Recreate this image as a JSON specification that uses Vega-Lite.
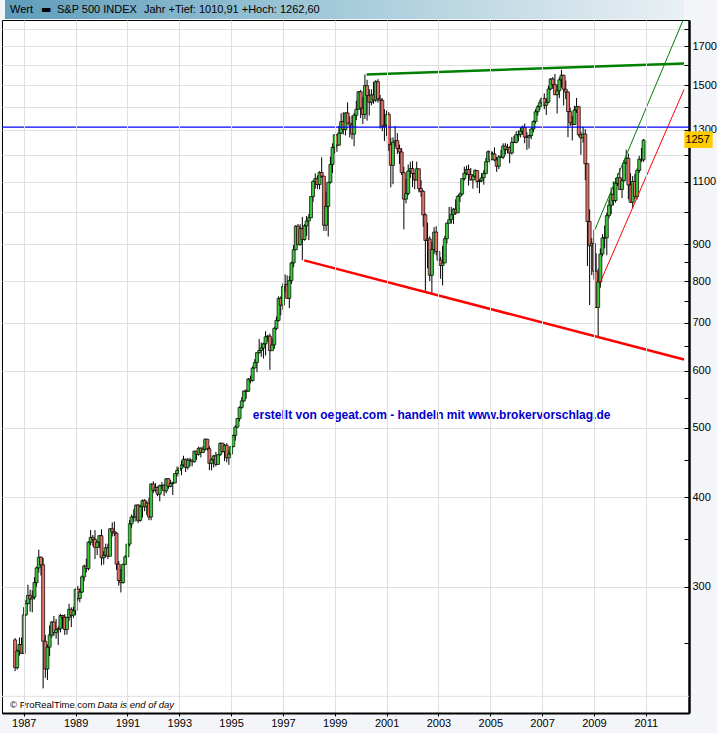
{
  "$schema": "https://vega.github.io/schema/vega-lite/v6.json",
  "width": 687,
  "height": 693,
  "autosize": {"type": "none"},
  "padding": {"left": 2, "top": 20, "right": 28, "bottom": 20},
  "config": {
    "background": "#f4f5f8",
    "view": {"fill": "white", "stroke": "black", "strokeWidth": 1},
    "font": "Liberation Sans"
  },
  "datasets": {
    "ohlc": [
      {"d":"1986-09-01","o":252.93,"h":254.37,"l":228.74,"c":231.32},
      {"d":"1986-10-01","o":231.32,"h":245.26,"l":229.91,"c":243.98},
      {"d":"1986-11-01","o":243.98,"h":254.87,"l":240.46,"c":249.22},
      {"d":"1986-12-01","o":249.22,"h":254.87,"l":241.61,"c":242.17},
      {"d":"1987-01-01","o":242.17,"h":280.96,"l":242.17,"c":274.08},
      {"d":"1987-02-01","o":274.08,"h":287.64,"l":272.96,"c":284.20},
      {"d":"1987-03-01","o":284.20,"h":301.95,"l":283.15,"c":291.70},
      {"d":"1987-04-01","o":291.70,"h":297.26,"l":276.94,"c":288.36},
      {"d":"1987-05-01","o":288.36,"h":296.58,"l":276.30,"c":290.10},
      {"d":"1987-06-01","o":290.10,"h":309.25,"l":288.04,"c":304.00},
      {"d":"1987-07-01","o":304.00,"h":320.00,"l":300.21,"c":318.66},
      {"d":"1987-08-01","o":318.66,"h":337.89,"l":313.84,"c":329.80},
      {"d":"1987-09-01","o":329.80,"h":330.50,"l":310.93,"c":321.83},
      {"d":"1987-10-01","o":321.83,"h":328.94,"l":216.46,"c":251.79},
      {"d":"1987-11-01","o":251.79,"h":256.98,"l":223.92,"c":230.30},
      {"d":"1987-12-01","o":230.30,"h":249.16,"l":222.36,"c":247.08},
      {"d":"1988-01-01","o":247.08,"h":265.03,"l":240.17,"c":257.07},
      {"d":"1988-02-01","o":257.07,"h":268.62,"l":254.67,"c":267.82},
      {"d":"1988-03-01","o":267.82,"h":273.07,"l":256.04,"c":258.89},
      {"d":"1988-04-01","o":258.89,"h":270.43,"l":253.89,"c":261.33},
      {"d":"1988-05-01","o":261.33,"h":264.13,"l":248.85,"c":262.16},
      {"d":"1988-06-01","o":262.16,"h":275.00,"l":259.03,"c":273.50},
      {"d":"1988-07-01","o":273.50,"h":274.08,"l":262.31,"c":272.02},
      {"d":"1988-08-01","o":272.02,"h":274.65,"l":256.98,"c":261.52},
      {"d":"1988-09-01","o":261.52,"h":272.01,"l":257.24,"c":271.91},
      {"d":"1988-10-01","o":271.91,"h":283.95,"l":268.91,"c":278.97},
      {"d":"1988-11-01","o":278.97,"h":280.73,"l":263.51,"c":273.70},
      {"d":"1988-12-01","o":273.70,"h":281.31,"l":271.51,"c":277.72},
      {"d":"1989-01-01","o":277.72,"h":298.20,"l":273.81,"c":297.47},
      {"d":"1989-02-01","o":297.47,"h":300.76,"l":286.75,"c":288.86},
      {"d":"1989-03-01","o":288.86,"h":298.39,"l":285.26,"c":294.87},
      {"d":"1989-04-01","o":294.87,"h":311.06,"l":293.87,"c":309.64},
      {"d":"1989-05-01","o":309.64,"h":322.08,"l":305.42,"c":320.52},
      {"d":"1989-06-01","o":320.52,"h":328.24,"l":314.02,"c":317.98},
      {"d":"1989-07-01","o":317.98,"h":347.00,"l":316.14,"c":346.08},
      {"d":"1989-08-01","o":346.08,"h":359.86,"l":342.88,"c":351.45},
      {"d":"1989-09-01","o":351.45,"h":354.13,"l":341.70,"c":349.15},
      {"d":"1989-10-01","o":349.15,"h":359.80,"l":327.81,"c":340.36},
      {"d":"1989-11-01","o":340.36,"h":347.85,"l":332.01,"c":345.99},
      {"d":"1989-12-01","o":345.99,"h":354.10,"l":339.54,"c":353.40},
      {"d":"1990-01-01","o":353.40,"h":360.59,"l":321.44,"c":329.08},
      {"d":"1990-02-01","o":329.08,"h":336.09,"l":322.10,"c":331.89},
      {"d":"1990-03-01","o":331.89,"h":344.49,"l":329.92,"c":339.94},
      {"d":"1990-04-01","o":339.94,"h":344.33,"l":327.76,"c":330.80},
      {"d":"1990-05-01","o":330.80,"h":362.26,"l":330.80,"c":361.23},
      {"d":"1990-06-01","o":361.23,"h":368.79,"l":352.36,"c":358.02},
      {"d":"1990-07-01","o":358.02,"h":369.78,"l":352.98,"c":356.15},
      {"d":"1990-08-01","o":356.15,"h":357.35,"l":316.55,"c":322.56},
      {"d":"1990-09-01","o":322.56,"h":325.82,"l":300.97,"c":306.05},
      {"d":"1990-10-01","o":306.05,"h":317.68,"l":294.51,"c":304.00},
      {"d":"1990-11-01","o":304.00,"h":323.23,"l":302.86,"c":322.22},
      {"d":"1990-12-01","o":322.22,"h":331.92,"l":322.22,"c":330.22},
      {"d":"1991-01-01","o":330.22,"h":344.90,"l":309.35,"c":343.93},
      {"d":"1991-02-01","o":343.93,"h":371.75,"l":341.38,"c":367.07},
      {"d":"1991-03-01","o":367.07,"h":378.29,"l":362.48,"c":375.22},
      {"d":"1991-04-01","o":375.22,"h":384.57,"l":369.49,"c":375.34},
      {"d":"1991-05-01","o":375.34,"h":390.50,"l":369.90,"c":389.83},
      {"d":"1991-06-01","o":389.83,"h":391.21,"l":367.99,"c":371.16},
      {"d":"1991-07-01","o":371.16,"h":390.33,"l":369.60,"c":387.81},
      {"d":"1991-08-01","o":387.81,"h":397.04,"l":374.75,"c":395.43},
      {"d":"1991-09-01","o":395.43,"h":397.48,"l":382.24,"c":387.86},
      {"d":"1991-10-01","o":387.86,"h":395.49,"l":377.67,"c":392.46},
      {"d":"1991-11-01","o":392.46,"h":399.13,"l":371.35,"c":375.22},
      {"d":"1991-12-01","o":375.22,"h":418.32,"l":371.36,"c":417.09},
      {"d":"1992-01-01","o":417.09,"h":420.77,"l":405.40,"c":408.79},
      {"d":"1992-02-01","o":408.79,"h":418.23,"l":406.77,"c":412.70},
      {"d":"1992-03-01","o":412.70,"h":413.74,"l":401.20,"c":403.69},
      {"d":"1992-04-01","o":403.69,"h":416.28,"l":394.50,"c":414.95},
      {"d":"1992-05-01","o":414.95,"h":419.71,"l":409.33,"c":415.35},
      {"d":"1992-06-01","o":415.35,"h":417.30,"l":401.32,"c":408.14},
      {"d":"1992-07-01","o":408.14,"h":425.09,"l":404.86,"c":424.21},
      {"d":"1992-08-01","o":424.21,"h":425.09,"l":410.88,"c":414.03},
      {"d":"1992-09-01","o":414.03,"h":422.54,"l":412.78,"c":417.80},
      {"d":"1992-10-01","o":417.80,"h":420.13,"l":402.66,"c":418.68},
      {"d":"1992-11-01","o":418.68,"h":431.52,"l":418.32,"c":431.35},
      {"d":"1992-12-01","o":431.35,"h":441.28,"l":427.44,"c":435.71},
      {"d":"1993-01-01","o":435.71,"h":442.00,"l":426.91,"c":438.78},
      {"d":"1993-02-01","o":438.78,"h":449.56,"l":429.04,"c":443.38},
      {"d":"1993-03-01","o":443.38,"h":456.74,"l":440.76,"c":451.67},
      {"d":"1993-04-01","o":451.67,"h":452.44,"l":433.54,"c":440.19},
      {"d":"1993-05-01","o":440.19,"h":453.52,"l":436.92,"c":450.19},
      {"d":"1993-06-01","o":450.19,"h":453.85,"l":441.42,"c":450.53},
      {"d":"1993-07-01","o":450.53,"h":451.15,"l":441.45,"c":448.13},
      {"d":"1993-08-01","o":448.13,"h":464.33,"l":446.77,"c":463.56},
      {"d":"1993-09-01","o":463.56,"h":463.63,"l":450.80,"c":458.93},
      {"d":"1993-10-01","o":458.93,"h":470.35,"l":456.86,"c":467.83},
      {"d":"1993-11-01","o":467.83,"h":469.54,"l":454.36,"c":461.79},
      {"d":"1993-12-01","o":461.79,"h":471.10,"l":460.67,"c":466.45},
      {"d":"1994-01-01","o":466.45,"h":482.85,"l":464.36,"c":481.61},
      {"d":"1994-02-01","o":481.61,"h":482.23,"l":464.26,"c":467.14},
      {"d":"1994-03-01","o":467.14,"h":471.09,"l":436.16,"c":445.77},
      {"d":"1994-04-01","o":445.77,"h":453.11,"l":435.86,"c":450.91},
      {"d":"1994-05-01","o":450.91,"h":458.09,"l":439.85,"c":456.50},
      {"d":"1994-06-01","o":456.50,"h":462.37,"l":441.41,"c":444.27},
      {"d":"1994-07-01","o":444.27,"h":459.31,"l":443.66,"c":458.26},
      {"d":"1994-08-01","o":458.26,"h":476.58,"l":456.60,"c":475.49},
      {"d":"1994-09-01","o":475.49,"h":476.10,"l":461.64,"c":462.69},
      {"d":"1994-10-01","o":462.69,"h":474.49,"l":449.00,"c":472.35},
      {"d":"1994-11-01","o":472.35,"h":475.73,"l":447.29,"c":453.69},
      {"d":"1994-12-01","o":453.69,"h":464.43,"l":443.59,"c":459.27},
      {"d":"1995-01-01","o":459.27,"h":471.36,"l":457.20,"c":470.42},
      {"d":"1995-02-01","o":470.42,"h":489.19,"l":469.29,"c":487.39},
      {"d":"1995-03-01","o":487.39,"h":503.90,"l":479.49,"c":500.71},
      {"d":"1995-04-01","o":500.71,"h":515.29,"l":499.90,"c":514.71},
      {"d":"1995-05-01","o":514.71,"h":535.25,"l":509.92,"c":533.40},
      {"d":"1995-06-01","o":533.40,"h":551.07,"l":531.03,"c":544.75},
      {"d":"1995-07-01","o":544.75,"h":563.84,"l":542.51,"c":562.06},
      {"d":"1995-08-01","o":562.06,"h":565.63,"l":548.36,"c":561.88},
      {"d":"1995-09-01","o":561.88,"h":586.12,"l":560.72,"c":584.41},
      {"d":"1995-10-01","o":584.41,"h":590.66,"l":576.54,"c":581.50},
      {"d":"1995-11-01","o":581.50,"h":608.42,"l":579.23,"c":605.37},
      {"d":"1995-12-01","o":605.37,"h":622.88,"l":605.05,"c":615.93},
      {"d":"1996-01-01","o":615.93,"h":636.18,"l":597.29,"c":636.02},
      {"d":"1996-02-01","o":636.02,"h":664.23,"l":633.71,"c":640.43},
      {"d":"1996-03-01","o":640.43,"h":656.97,"l":627.63,"c":645.50},
      {"d":"1996-04-01","o":645.50,"h":656.37,"l":624.14,"c":654.17},
      {"d":"1996-05-01","o":654.17,"h":681.10,"l":630.07,"c":669.12},
      {"d":"1996-06-01","o":669.12,"h":673.31,"l":658.64,"c":670.63},
      {"d":"1996-07-01","o":670.63,"h":675.88,"l":601.81,"c":639.95},
      {"d":"1996-08-01","o":639.95,"h":666.11,"l":639.95,"c":651.99},
      {"d":"1996-09-01","o":651.99,"h":690.88,"l":643.68,"c":687.31},
      {"d":"1996-10-01","o":687.31,"h":714.10,"l":684.09,"c":705.27},
      {"d":"1996-11-01","o":705.27,"h":762.12,"l":702.51,"c":757.02},
      {"d":"1996-12-01","o":757.02,"h":761.75,"l":716.69,"c":740.74},
      {"d":"1997-01-01","o":740.74,"h":794.67,"l":729.55,"c":786.16},
      {"d":"1997-02-01","o":786.16,"h":817.68,"l":773.43,"c":790.82},
      {"d":"1997-03-01","o":790.82,"h":814.90,"l":756.13,"c":757.12},
      {"d":"1997-04-01","o":757.12,"h":812.93,"l":733.54,"c":801.34},
      {"d":"1997-05-01","o":801.34,"h":851.87,"l":793.21,"c":848.28},
      {"d":"1997-06-01","o":848.28,"h":898.70,"l":836.33,"c":885.14},
      {"d":"1997-07-01","o":885.14,"h":957.73,"l":883.06,"c":954.29},
      {"d":"1997-08-01","o":954.29,"h":961.03,"l":898.07,"c":899.47},
      {"d":"1997-09-01","o":899.47,"h":960.32,"l":896.73,"c":947.28},
      {"d":"1997-10-01","o":947.28,"h":983.12,"l":855.27,"c":914.62},
      {"d":"1997-11-01","o":914.62,"h":960.22,"l":911.00,"c":955.40},
      {"d":"1997-12-01","o":955.40,"h":986.25,"l":924.92,"c":970.43},
      {"d":"1998-01-01","o":970.43,"h":992.65,"l":912.83,"c":980.28},
      {"d":"1998-02-01","o":980.28,"h":1050.64,"l":979.50,"c":1049.34},
      {"d":"1998-03-01","o":1049.34,"h":1105.65,"l":1032.10,"c":1101.75},
      {"d":"1998-04-01","o":1101.75,"h":1130.52,"l":1076.70,"c":1111.75},
      {"d":"1998-05-01","o":1111.75,"h":1123.02,"l":1074.67,"c":1090.82},
      {"d":"1998-06-01","o":1090.82,"h":1138.69,"l":1074.08,"c":1133.84},
      {"d":"1998-07-01","o":1133.84,"h":1190.58,"l":1114.30,"c":1120.67},
      {"d":"1998-08-01","o":1120.67,"h":1121.25,"l":939.98,"c":957.28},
      {"d":"1998-09-01","o":957.28,"h":1066.11,"l":939.98,"c":1017.01},
      {"d":"1998-10-01","o":1017.01,"h":1100.56,"l":923.32,"c":1098.67},
      {"d":"1998-11-01","o":1098.67,"h":1193.19,"l":1094.57,"c":1163.63},
      {"d":"1998-12-01","o":1163.63,"h":1244.93,"l":1132.88,"c":1229.23},
      {"d":"1999-01-01","o":1229.23,"h":1280.37,"l":1205.46,"c":1279.64},
      {"d":"1999-02-01","o":1279.64,"h":1281.75,"l":1211.65,"c":1238.33},
      {"d":"1999-03-01","o":1238.33,"h":1316.55,"l":1234.23,"c":1286.37},
      {"d":"1999-04-01","o":1286.37,"h":1371.56,"l":1282.56,"c":1335.18},
      {"d":"1999-05-01","o":1335.18,"h":1375.98,"l":1281.41,"c":1301.84},
      {"d":"1999-06-01","o":1301.84,"h":1375.13,"l":1277.31,"c":1372.71},
      {"d":"1999-07-01","o":1372.71,"h":1420.33,"l":1328.49,"c":1328.72},
      {"d":"1999-08-01","o":1328.72,"h":1357.51,"l":1268.37,"c":1320.41},
      {"d":"1999-09-01","o":1320.41,"h":1361.48,"l":1261.24,"c":1282.71},
      {"d":"1999-10-01","o":1282.71,"h":1373.17,"l":1233.70,"c":1362.93},
      {"d":"1999-11-01","o":1362.93,"h":1427.91,"l":1341.36,"c":1388.91},
      {"d":"1999-12-01","o":1388.91,"h":1473.10,"l":1386.83,"c":1469.25},
      {"d":"2000-01-01","o":1469.25,"h":1478.00,"l":1350.14,"c":1394.46},
      {"d":"2000-02-01","o":1394.46,"h":1444.55,"l":1325.07,"c":1366.42},
      {"d":"2000-03-01","o":1366.42,"h":1552.87,"l":1346.62,"c":1498.58},
      {"d":"2000-04-01","o":1498.58,"h":1527.19,"l":1339.40,"c":1452.43},
      {"d":"2000-05-01","o":1452.43,"h":1481.51,"l":1361.09,"c":1420.60},
      {"d":"2000-06-01","o":1420.60,"h":1480.82,"l":1407.00,"c":1454.60},
      {"d":"2000-07-01","o":1454.60,"h":1517.32,"l":1413.89,"c":1430.83},
      {"d":"2000-08-01","o":1430.83,"h":1525.21,"l":1421.72,"c":1517.68},
      {"d":"2000-09-01","o":1517.68,"h":1530.09,"l":1419.44,"c":1436.51},
      {"d":"2000-10-01","o":1436.51,"h":1454.82,"l":1305.79,"c":1429.40},
      {"d":"2000-11-01","o":1429.40,"h":1438.46,"l":1294.90,"c":1314.95},
      {"d":"2000-12-01","o":1314.95,"h":1389.06,"l":1254.07,"c":1320.28},
      {"d":"2001-01-01","o":1320.28,"h":1383.37,"l":1274.62,"c":1366.01},
      {"d":"2001-02-01","o":1366.01,"h":1376.38,"l":1215.44,"c":1239.94},
      {"d":"2001-03-01","o":1239.94,"h":1267.42,"l":1081.19,"c":1160.33},
      {"d":"2001-04-01","o":1160.33,"h":1269.30,"l":1091.99,"c":1249.46},
      {"d":"2001-05-01","o":1249.46,"h":1315.93,"l":1232.00,"c":1255.82},
      {"d":"2001-06-01","o":1255.82,"h":1286.62,"l":1203.03,"c":1224.42},
      {"d":"2001-07-01","o":1224.42,"h":1239.78,"l":1165.54,"c":1211.23},
      {"d":"2001-08-01","o":1211.23,"h":1226.27,"l":1124.87,"c":1133.58},
      {"d":"2001-09-01","o":1133.58,"h":1155.40,"l":944.75,"c":1040.94},
      {"d":"2001-10-01","o":1040.94,"h":1110.61,"l":1026.76,"c":1059.78},
      {"d":"2001-11-01","o":1059.78,"h":1163.38,"l":1054.31,"c":1139.45},
      {"d":"2001-12-01","o":1139.45,"h":1173.62,"l":1114.51,"c":1148.08},
      {"d":"2002-01-01","o":1148.08,"h":1176.97,"l":1081.66,"c":1130.20},
      {"d":"2002-02-01","o":1130.20,"h":1131.00,"l":1074.36,"c":1106.73},
      {"d":"2002-03-01","o":1106.73,"h":1173.94,"l":1106.73,"c":1147.39},
      {"d":"2002-04-01","o":1147.39,"h":1147.84,"l":1063.46,"c":1076.92},
      {"d":"2002-05-01","o":1076.92,"h":1106.59,"l":1048.96,"c":1067.14},
      {"d":"2002-06-01","o":1067.14,"h":1070.74,"l":952.92,"c":989.82},
      {"d":"2002-07-01","o":989.82,"h":994.46,"l":775.68,"c":911.62},
      {"d":"2002-08-01","o":911.62,"h":965.00,"l":833.44,"c":916.07},
      {"d":"2002-09-01","o":916.07,"h":924.02,"l":800.20,"c":815.28},
      {"d":"2002-10-01","o":815.28,"h":907.44,"l":768.63,"c":885.76},
      {"d":"2002-11-01","o":885.76,"h":951.57,"l":872.19,"c":936.31},
      {"d":"2002-12-01","o":936.31,"h":954.28,"l":869.45,"c":879.82},
      {"d":"2003-01-01","o":879.82,"h":935.05,"l":840.34,"c":855.70},
      {"d":"2003-02-01","o":855.70,"h":864.64,"l":806.29,"c":841.15},
      {"d":"2003-03-01","o":841.15,"h":895.90,"l":788.90,"c":848.18},
      {"d":"2003-04-01","o":848.18,"h":924.24,"l":847.85,"c":916.92},
      {"d":"2003-05-01","o":916.92,"h":965.38,"l":902.83,"c":963.59},
      {"d":"2003-06-01","o":963.59,"h":1015.33,"l":963.59,"c":974.50},
      {"d":"2003-07-01","o":974.50,"h":1015.41,"l":962.10,"c":990.31},
      {"d":"2003-08-01","o":990.31,"h":1011.01,"l":960.84,"c":1008.01},
      {"d":"2003-09-01","o":1008.01,"h":1040.29,"l":990.36,"c":995.97},
      {"d":"2003-10-01","o":995.97,"h":1053.79,"l":995.97,"c":1050.71},
      {"d":"2003-11-01","o":1050.71,"h":1063.65,"l":1031.20,"c":1058.20},
      {"d":"2003-12-01","o":1058.20,"h":1112.56,"l":1053.41,"c":1111.92},
      {"d":"2004-01-01","o":1111.92,"h":1155.38,"l":1105.08,"c":1131.13},
      {"d":"2004-02-01","o":1131.13,"h":1158.98,"l":1124.44,"c":1144.94},
      {"d":"2004-03-01","o":1144.94,"h":1163.23,"l":1087.16,"c":1126.21},
      {"d":"2004-04-01","o":1126.21,"h":1150.57,"l":1105.11,"c":1107.30},
      {"d":"2004-05-01","o":1107.30,"h":1127.74,"l":1076.32,"c":1120.68},
      {"d":"2004-06-01","o":1120.68,"h":1146.34,"l":1113.32,"c":1140.84},
      {"d":"2004-07-01","o":1140.84,"h":1142.00,"l":1078.78,"c":1101.72},
      {"d":"2004-08-01","o":1101.72,"h":1109.68,"l":1060.72,"c":1104.24},
      {"d":"2004-09-01","o":1104.24,"h":1131.54,"l":1099.18,"c":1114.58},
      {"d":"2004-10-01","o":1114.58,"h":1142.05,"l":1090.19,"c":1130.20},
      {"d":"2004-11-01","o":1130.20,"h":1188.46,"l":1127.60,"c":1173.82},
      {"d":"2004-12-01","o":1173.82,"h":1217.33,"l":1173.82,"c":1211.92},
      {"d":"2005-01-01","o":1211.92,"h":1217.80,"l":1163.75,"c":1181.27},
      {"d":"2005-02-01","o":1181.27,"h":1212.44,"l":1180.95,"c":1203.60},
      {"d":"2005-03-01","o":1203.60,"h":1229.11,"l":1176.92,"c":1180.59},
      {"d":"2005-04-01","o":1180.59,"h":1191.88,"l":1136.15,"c":1156.85},
      {"d":"2005-05-01","o":1156.85,"h":1199.56,"l":1146.18,"c":1191.50},
      {"d":"2005-06-01","o":1191.50,"h":1219.59,"l":1188.30,"c":1191.33},
      {"d":"2005-07-01","o":1191.33,"h":1245.15,"l":1183.55,"c":1234.18},
      {"d":"2005-08-01","o":1234.18,"h":1245.86,"l":1201.07,"c":1220.33},
      {"d":"2005-09-01","o":1220.33,"h":1243.13,"l":1205.35,"c":1228.81},
      {"d":"2005-10-01","o":1228.81,"h":1233.34,"l":1168.20,"c":1207.01},
      {"d":"2005-11-01","o":1207.01,"h":1270.64,"l":1201.07,"c":1249.48},
      {"d":"2005-12-01","o":1249.48,"h":1275.80,"l":1246.59,"c":1248.29},
      {"d":"2006-01-01","o":1248.29,"h":1294.90,"l":1245.74,"c":1280.08},
      {"d":"2006-02-01","o":1280.08,"h":1297.57,"l":1253.61,"c":1280.66},
      {"d":"2006-03-01","o":1280.66,"h":1310.88,"l":1268.42,"c":1294.83},
      {"d":"2006-04-01","o":1294.83,"h":1318.16,"l":1280.74,"c":1310.61},
      {"d":"2006-05-01","o":1310.61,"h":1326.70,"l":1245.34,"c":1270.09},
      {"d":"2006-06-01","o":1270.09,"h":1290.68,"l":1219.29,"c":1270.20},
      {"d":"2006-07-01","o":1270.20,"h":1280.42,"l":1224.54,"c":1276.66},
      {"d":"2006-08-01","o":1276.66,"h":1306.74,"l":1261.30,"c":1303.82},
      {"d":"2006-09-01","o":1303.82,"h":1340.28,"l":1290.93,"c":1335.85},
      {"d":"2006-10-01","o":1335.85,"h":1389.45,"l":1327.10,"c":1377.94},
      {"d":"2006-11-01","o":1377.94,"h":1407.89,"l":1360.98,"c":1400.63},
      {"d":"2006-12-01","o":1400.63,"h":1431.81,"l":1385.93,"c":1418.30},
      {"d":"2007-01-01","o":1418.30,"h":1441.61,"l":1403.97,"c":1438.24},
      {"d":"2007-02-01","o":1438.24,"h":1461.57,"l":1389.42,"c":1406.82},
      {"d":"2007-03-01","o":1406.82,"h":1438.89,"l":1363.98,"c":1420.86},
      {"d":"2007-04-01","o":1420.86,"h":1498.02,"l":1416.37,"c":1482.37},
      {"d":"2007-05-01","o":1482.37,"h":1535.56,"l":1476.70,"c":1530.62},
      {"d":"2007-06-01","o":1530.62,"h":1540.56,"l":1484.18,"c":1503.35},
      {"d":"2007-07-01","o":1503.35,"h":1555.90,"l":1454.25,"c":1455.27},
      {"d":"2007-08-01","o":1455.27,"h":1503.89,"l":1370.60,"c":1473.99},
      {"d":"2007-09-01","o":1473.99,"h":1538.74,"l":1439.29,"c":1526.75},
      {"d":"2007-10-01","o":1526.75,"h":1576.09,"l":1489.56,"c":1549.38},
      {"d":"2007-11-01","o":1549.38,"h":1552.00,"l":1406.10,"c":1481.14},
      {"d":"2007-12-01","o":1481.14,"h":1523.57,"l":1435.65,"c":1468.36},
      {"d":"2008-01-01","o":1468.36,"h":1471.77,"l":1270.05,"c":1378.55},
      {"d":"2008-02-01","o":1378.55,"h":1396.02,"l":1316.75,"c":1330.63},
      {"d":"2008-03-01","o":1330.63,"h":1359.68,"l":1256.98,"c":1322.70},
      {"d":"2008-04-01","o":1322.70,"h":1404.57,"l":1320.00,"c":1385.59},
      {"d":"2008-05-01","o":1385.59,"h":1440.24,"l":1373.07,"c":1400.38},
      {"d":"2008-06-01","o":1400.38,"h":1404.05,"l":1272.00,"c":1280.00},
      {"d":"2008-07-01","o":1280.00,"h":1292.17,"l":1200.44,"c":1267.38},
      {"d":"2008-08-01","o":1267.38,"h":1313.15,"l":1247.45,"c":1282.83},
      {"d":"2008-09-01","o":1282.83,"h":1303.04,"l":1106.42,"c":1166.36},
      {"d":"2008-10-01","o":1166.36,"h":1167.03,"l":839.80,"c":968.75},
      {"d":"2008-11-01","o":968.75,"h":1007.51,"l":741.02,"c":896.24},
      {"d":"2008-12-01","o":896.24,"h":918.85,"l":815.69,"c":903.25},
      {"d":"2009-01-01","o":903.25,"h":943.85,"l":804.22,"c":825.88},
      {"d":"2009-02-01","o":825.88,"h":875.01,"l":734.52,"c":735.09},
      {"d":"2009-03-01","o":735.09,"h":832.98,"l":666.79,"c":797.87},
      {"d":"2009-04-01","o":797.87,"h":888.70,"l":783.32,"c":872.81},
      {"d":"2009-05-01","o":872.81,"h":930.17,"l":866.10,"c":919.14},
      {"d":"2009-06-01","o":919.14,"h":956.23,"l":888.86,"c":919.32},
      {"d":"2009-07-01","o":919.32,"h":996.68,"l":869.32,"c":987.48},
      {"d":"2009-08-01","o":987.48,"h":1039.47,"l":978.51,"c":1020.62},
      {"d":"2009-09-01","o":1020.62,"h":1080.15,"l":991.97,"c":1057.08},
      {"d":"2009-10-01","o":1057.08,"h":1101.36,"l":1020.18,"c":1036.19},
      {"d":"2009-11-01","o":1036.19,"h":1113.69,"l":1029.38,"c":1095.63},
      {"d":"2009-12-01","o":1095.63,"h":1130.38,"l":1085.89,"c":1115.10},
      {"d":"2010-01-01","o":1115.10,"h":1150.45,"l":1071.59,"c":1073.87},
      {"d":"2010-02-01","o":1073.87,"h":1112.42,"l":1044.50,"c":1104.49},
      {"d":"2010-03-01","o":1104.49,"h":1180.16,"l":1101.36,"c":1169.43},
      {"d":"2010-04-01","o":1169.43,"h":1219.80,"l":1165.00,"c":1186.69},
      {"d":"2010-05-01","o":1186.69,"h":1205.13,"l":1040.78,"c":1089.41},
      {"d":"2010-06-01","o":1089.41,"h":1131.23,"l":1028.33,"c":1030.71},
      {"d":"2010-07-01","o":1030.71,"h":1120.95,"l":1010.91,"c":1101.60},
      {"d":"2010-08-01","o":1101.60,"h":1129.24,"l":1039.70,"c":1049.33},
      {"d":"2010-09-01","o":1049.33,"h":1148.90,"l":1040.40,"c":1141.20},
      {"d":"2010-10-01","o":1141.20,"h":1196.14,"l":1131.87,"c":1183.26},
      {"d":"2010-11-01","o":1183.26,"h":1227.08,"l":1173.00,"c":1180.55},
      {"d":"2010-12-01","o":1180.55,"h":1262.60,"l":1173.80,"c":1257.64}
    ],
    "trend": [
      {"line":"gruen_dick","d":"2000-03-24","v":1552.87},
      {"line":"gruen_dick","d":"2012-06-23","v":1609},
      {"line":"rot_dick","d":"1997-10-28","v":855.27},
      {"line":"rot_dick","d":"2012-06-23","v":622},
      {"line":"gruen_duenn","d":"2009-01-15","v":943.85},
      {"line":"gruen_duenn","d":"2012-06-23","v":1862},
      {"line":"rot_duenn","d":"2009-04-01","v":797.87},
      {"line":"rot_duenn","d":"2012-06-23","v":1480}
    ]
  },
  "layer": [
    {
      "data": {"name": "ohlc"},
      "mark": {"type": "rule", "color": "black", "strokeWidth": 1},
      "encoding": {
        "x": {
          "field": "d", "type": "temporal", "title": null,
          "scale": {"domain": [{"year":1986,"month":5,"date":10,"utc":true},{"year":2012,"month":6,"date":23,"utc":true}], "nice": false},
          "axis": {
            "title": null,
            "orient": "bottom",
            "zindex": 1,
            "values": [
              {"year":1987,"utc":true},{"year":1988,"utc":true},{"year":1989,"utc":true},{"year":1990,"utc":true},
              {"year":1991,"utc":true},{"year":1992,"utc":true},{"year":1993,"utc":true},{"year":1994,"utc":true},
              {"year":1995,"utc":true},{"year":1996,"utc":true},{"year":1997,"utc":true},{"year":1998,"utc":true},
              {"year":1999,"utc":true},{"year":2000,"utc":true},{"year":2001,"utc":true},{"year":2002,"utc":true},
              {"year":2003,"utc":true},{"year":2004,"utc":true},{"year":2005,"utc":true},{"year":2006,"utc":true},
              {"year":2007,"utc":true},{"year":2008,"utc":true},{"year":2009,"utc":true},{"year":2010,"utc":true},
              {"year":2011,"utc":true},{"year":2012,"utc":true}
            ],
            "labelExpr": "utcyear(datum.value) % 2 === 1 ? utcFormat(datum.value, '%Y') : ''",
            "grid": true,
            "gridColor": "#e0e0e0",
            "gridWidth": 1,
            "domainColor": "black",
            "domainWidth": 2,
            "tickColor": "black",
            "tickSize": 3,
            "tickOpacity": {"condition": {"test": "utcyear(datum.value) % 2 === 1", "value": 1}, "value": 0},
            "labelPadding": 1,
            "labelFontSize": 11,
            "labelColor": "black",
            "labelFont": "Liberation Sans",
            "labelOverlap": false,
            "labelFlush": false
          }
        },
        "y": {
          "field": "l", "type": "quantitative", "title": null,
          "scale": {"type": "log", "domain": [200, 1850], "nice": false, "zero": false},
          "axis": {
            "title": null,
            "orient": "right",
            "values": [250,300,350,400,450,500,550,600,650,700,750,800,850,900,1000,1100,1200,1300,1400,1500,1600,1700,1800],
            "labelExpr": "indexof([300,400,500,600,700,800,900,1100,1300,1500,1700], datum.value) >= 0 ? datum.value : ''",
            "grid": true,
            "gridColor": "#e0e0e0",
            "gridOpacity": {"condition": {"test": "datum.value % 100 === 0", "value": 1}, "value": 0},
            "domainColor": "black",
            "domainWidth": 2.5,
            "tickColor": "black",
            "tickSize": -5,
            "labelPadding": 8,
            "labelFontSize": 11,
            "labelColor": "black",
            "labelFont": "Liberation Sans",
            "labelOverlap": false,
            "labelFlush": false
          }
        },
        "y2": {"field": "h"}
      }
    },
    {
      "data": {"name": "ohlc"},
      "mark": {"type": "bar", "size": 3, "stroke": "black", "strokeWidth": 0.7},
      "encoding": {
        "x": {"field": "d", "type": "temporal", "title": null},
        "y": {"field": "o", "type": "quantitative", "title": null},
        "y2": {"field": "c"},
        "fill": {"condition": {"test": "datum.c >= datum.o", "value": "#3ec43e"}, "value": "#e3706b"}
      }
    },
    {
      "data": {"values": [{}]},
      "mark": {"type": "rect", "fill": "white"},
      "encoding": {
        "x": {"datum": {"year":1986,"month":5,"date":10,"utc":true}, "type": "temporal"},
        "x2": {"datum": {"year":2012,"month":6,"date":23,"utc":true}},
        "y": {"datum": 200, "type": "quantitative"},
        "y2": {"datum": 211}
      }
    },
    {
      "data": {"values": [{}]},
      "mark": {"type": "rule", "color": "#e0e0e0", "strokeWidth": 1},
      "encoding": {"y": {"datum": 211, "type": "quantitative"}}
    },
    {
      "data": {"values": [{}]},
      "mark": {"type": "rect", "clip": false, "fill": {"gradient": "linear", "x1": 0, "y1": 0, "x2": 1, "y2": 0, "stops": [{"offset": 0, "color": "#5f9dbb"}, {"offset": 0.5, "color": "#a6cbda"}, {"offset": 1, "color": "#eaf0f4"}]}},
      "encoding": {
        "x": {"datum": {"year":1986,"month":4,"date":12,"utc":true}, "type": "temporal"},
        "x2": {"datum": {"year":2012,"month":6,"date":23,"utc":true}},
        "y": {"datum": 1856, "type": "quantitative"},
        "y2": {"datum": 1990}
      }
    },
    {
      "data": {"values": [{}]},
      "mark": {"type": "rule", "color": "#0000ff", "strokeWidth": 1.2},
      "encoding": {"y": {"datum": 1312, "type": "quantitative"}}
    },
    {
      "data": {"name": "trend"},
      "transform": [{"filter": "datum.line === 'rot_dick'"}],
      "mark": {"type": "line", "color": "#ff0000", "strokeWidth": 2.5, "clip": true},
      "encoding": {
        "x": {"field": "d", "type": "temporal", "title": null},
        "y": {"field": "v", "type": "quantitative", "title": null}
      }
    },
    {
      "data": {"name": "trend"},
      "transform": [{"filter": "datum.line === 'gruen_dick'"}],
      "mark": {"type": "line", "color": "#008000", "strokeWidth": 2.5, "clip": true},
      "encoding": {
        "x": {"field": "d", "type": "temporal", "title": null},
        "y": {"field": "v", "type": "quantitative", "title": null}
      }
    },
    {
      "data": {"name": "trend"},
      "transform": [{"filter": "datum.line === 'gruen_duenn'"}],
      "mark": {"type": "line", "color": "#008000", "strokeWidth": 1, "clip": true},
      "encoding": {
        "x": {"field": "d", "type": "temporal", "title": null},
        "y": {"field": "v", "type": "quantitative", "title": null}
      }
    },
    {
      "data": {"name": "trend"},
      "transform": [{"filter": "datum.line === 'rot_duenn'"}],
      "mark": {"type": "line", "color": "#ff0000", "strokeWidth": 1, "clip": true},
      "encoding": {
        "x": {"field": "d", "type": "temporal", "title": null},
        "y": {"field": "v", "type": "quantitative", "title": null}
      }
    },
    {
      "data": {"values": [{"t": "erstellt von oegeat.com - handeln mit www.brokervorschlag.de"}]},
      "mark": {"type": "text", "color": "#0000cc", "fontWeight": "bold", "fontSize": 12, "font": "Liberation Sans", "align": "center", "baseline": "middle"},
      "encoding": {
        "x": {"datum": {"year":2002,"month":9,"date":27,"utc":true}, "type": "temporal"},
        "y": {"datum": 520, "type": "quantitative"},
        "text": {"field": "t"}
      }
    },
    {
      "data": {"values": [{"t": "© ProRealTime.com"}]},
      "mark": {"type": "text", "color": "black", "fontSize": 9.5, "font": "Liberation Sans", "align": "left", "baseline": "middle", "dx": 3},
      "encoding": {
        "x": {"datum": {"year":1986,"month":5,"date":10,"utc":true}, "type": "temporal"},
        "y": {"datum": 205, "type": "quantitative"},
        "text": {"field": "t"}
      }
    },
    {
      "data": {"values": [{"t": "Data is end of day"}]},
      "mark": {"type": "text", "color": "black", "fontSize": 9.5, "fontStyle": "italic", "font": "Liberation Sans", "align": "left", "baseline": "middle"},
      "encoding": {
        "x": {"datum": {"year":1989,"month":11,"date":6,"utc":true}, "type": "temporal"},
        "y": {"datum": 205, "type": "quantitative"},
        "text": {"field": "t"}
      }
    },
    {
      "data": {"values": [{"t": "Wert"}]},
      "mark": {"type": "text", "color": "black", "fontSize": 11, "font": "Liberation Sans", "align": "left", "baseline": "middle", "dx": 3, "clip": false},
      "encoding": {
        "x": {"datum": {"year":1986,"month":5,"date":10,"utc":true}, "type": "temporal"},
        "y": {"datum": 1912, "type": "quantitative"},
        "text": {"field": "t"}
      }
    },
    {
      "data": {"values": [{"t": "▬"}]},
      "mark": {"type": "text", "color": "black", "fontSize": 11, "font": "DejaVu Sans", "align": "left", "baseline": "middle", "dx": 34, "clip": false},
      "encoding": {
        "x": {"datum": {"year":1986,"month":5,"date":10,"utc":true}, "type": "temporal"},
        "y": {"datum": 1912, "type": "quantitative"},
        "text": {"field": "t"}
      }
    },
    {
      "data": {"values": [{"t": "S&P 500 INDEX"}]},
      "mark": {"type": "text", "color": "black", "fontSize": 11, "font": "Liberation Sans", "align": "left", "baseline": "middle", "dx": 50, "clip": false},
      "encoding": {
        "x": {"datum": {"year":1986,"month":5,"date":10,"utc":true}, "type": "temporal"},
        "y": {"datum": 1912, "type": "quantitative"},
        "text": {"field": "t"}
      }
    },
    {
      "data": {"values": [{"t": "Jahr +Tief: 1010,91 +Hoch: 1262,60"}]},
      "mark": {"type": "text", "color": "black", "fontSize": 11, "font": "Liberation Sans", "align": "left", "baseline": "middle", "dx": 137, "clip": false},
      "encoding": {
        "x": {"datum": {"year":1986,"month":5,"date":10,"utc":true}, "type": "temporal"},
        "y": {"datum": 1912, "type": "quantitative"},
        "text": {"field": "t"}
      }
    },
    {
      "data": {"values": [{}]},
      "mark": {"type": "rect", "fill": "#ffcc00", "clip": false},
      "encoding": {
        "x": {"datum": {"year":2012,"month":6,"date":27,"utc":true}, "type": "temporal"},
        "x2": {"datum": {"year":2013,"month":8,"date":1,"utc":true}},
        "y": {"datum": 1227, "type": "quantitative"},
        "y2": {"datum": 1294}
      }
    },
    {
      "data": {"values": [{"t": "1257"}]},
      "mark": {"type": "text", "color": "black", "fontSize": 11, "font": "Liberation Sans", "align": "center", "baseline": "middle", "clip": false},
      "encoding": {
        "x": {"datum": {"year":2013,"month":1,"date":1,"utc":true}, "type": "temporal"},
        "y": {"datum": 1257, "type": "quantitative"},
        "text": {"field": "t"}
      }
    }
  ]
}
